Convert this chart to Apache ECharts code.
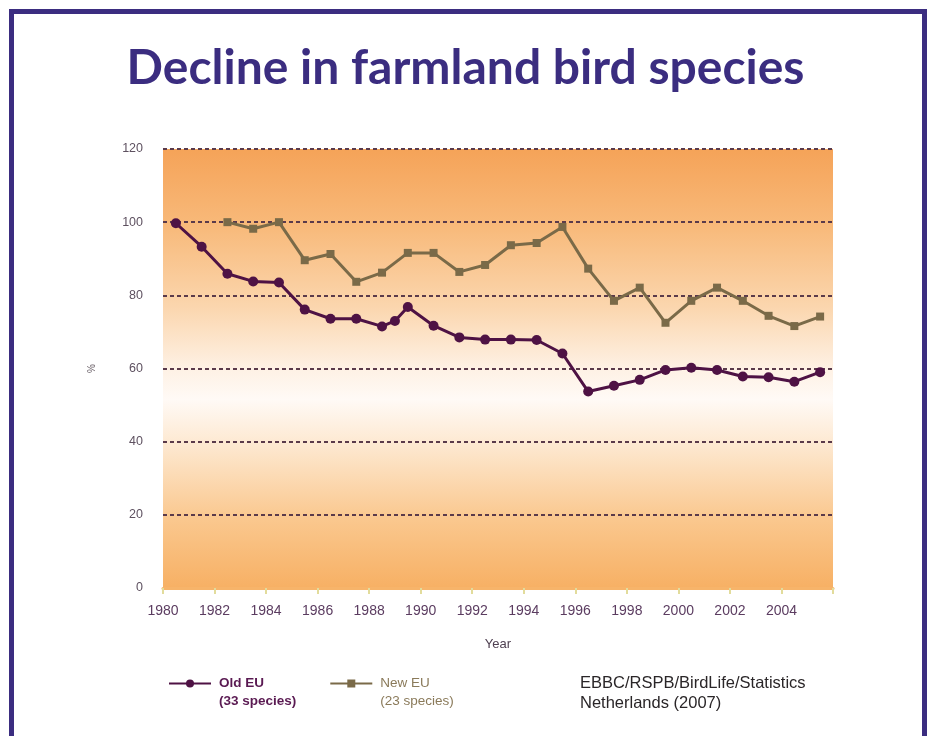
<!DOCTYPE html>
<html>
<head>
<meta charset="utf-8">
<script src="https://cdn.jsdelivr.net/npm/echarts@6/dist/echarts.min.js"></script>
<style>
  html, body { margin: 0; padding: 0; background: #ffffff; }
  #chart { width: 931px; height: 736px; }
</style>
</head>
<body>
<div id="chart"></div>
<script>
// Farmland bird index (1980 = 100), Old vs New EU member states
const yearTicks = [1980, 1982, 1984, 1986, 1988, 1990, 1992, 1994, 1996, 1998, 2000, 2002, 2004];

const oldEuYears = [1980.5, 1981.5, 1982.5, 1983.5, 1984.5, 1985.5, 1986.5, 1987.5, 1988.5, 1989.0,
  1989.5, 1990.5, 1991.5, 1992.5, 1993.5, 1994.5, 1995.5, 1996.5, 1997.5, 1998.5,
  1999.5, 2000.5, 2001.5, 2002.5, 2003.5, 2004.5, 2005.5];
const oldEuValues = [99.7, 93.3, 85.9, 83.8, 83.5, 76.1, 73.6, 73.6, 71.5, 73.0,
  76.8, 71.7, 68.5, 67.9, 67.9, 67.8, 64.1, 53.7, 55.3, 56.9,
  59.6, 60.2, 59.6, 57.8, 57.6, 56.4, 59.0];

const newEuYears = [1982.5, 1983.5, 1984.5, 1985.5, 1986.5, 1987.5, 1988.5, 1989.5, 1990.5,
  1991.5, 1992.5, 1993.5, 1994.5, 1995.5, 1996.5, 1997.5, 1998.5, 1999.5, 2000.5,
  2001.5, 2002.5, 2003.5, 2004.5, 2005.5];
const newEuValues = [100.0, 98.2, 100.0, 89.6, 91.3, 83.7, 86.2, 91.6, 91.6,
  86.4, 88.3, 93.7, 94.3, 98.7, 87.3, 78.5, 82.1, 72.5, 78.5,
  82.1, 78.5, 74.4, 71.6, 74.2];

const oldEuChange = '- 41%';
const newEuChange = '- 26%';

const pairs = (xs, ys) => xs.map((x, i) => [x, ys[i]]);

const chart = echarts.init(document.getElementById('chart'));

const legendText = (color, weight) => ({
  fontSize: 13.5, fontWeight: weight, color: color, lineHeight: 18,
  fontFamily: 'Liberation Sans', padding: [0, 0, 0, 3]
});

chart.setOption({
  backgroundColor: '#ffffff',
  animation: false,
  title: {
    text: 'Decline in farmland bird species',
    left: 'center',
    top: 40,
    textStyle: {
      fontFamily: 'Lato, sans-serif',
      fontWeight: 'bold',
      fontSize: 48,
      color: '#3b2d80'
    }
  },
  graphic: [
    {
      type: 'rect',
      shape: { x: 11.5, y: 11.5, width: 913, height: 740 },
      style: { fill: 'none', stroke: '#3b2d80', lineWidth: 5 },
      silent: true
    },
    {
      type: 'text',
      left: 580,
      top: 673,
      style: {
        text: 'EBBC/RSPB/BirdLife/Statistics\nNetherlands (2007)',
        font: '16.5px "Liberation Sans", sans-serif',
        lineHeight: 20,
        fill: '#2a2628'
      }
    }
  ],
  legend: {
    left: 163,
    top: 655,
    itemWidth: 42,
    itemHeight: 10,
    itemGap: 33,
    data: ['Old EU', 'New EU'],
    formatter: function (name) {
      const sub = name === 'Old EU' ? '(33 species)' : '(23 species)';
      const k = name === 'Old EU' ? 'o' : 'n';
      return '{e|}\n{' + k + '|' + name + '}\n{' + k + '|' + sub + '}';
    },
    textStyle: {
      rich: {
        e: { lineHeight: 18, fontSize: 11 },
        o: legendText('#5a1a52', 'bold'),
        n: legendText('#8a7a5a', 'normal')
      }
    }
  },
  grid: {
    left: 163,
    right: 98,
    top: 149,
    bottom: 148,
    show: true,
    borderWidth: 0,
    backgroundColor: {
      type: 'linear', x: 0, y: 0, x2: 0, y2: 1,
      colorStops: [
        { offset: 0.0, color: '#f5a358' },
        { offset: 0.18, color: '#f8ba7b' },
        { offset: 0.36, color: '#fbd6ae' },
        { offset: 0.5, color: '#fef1e4' },
        { offset: 0.57, color: '#fffaf6' },
        { offset: 0.68, color: '#fde7ce' },
        { offset: 0.84, color: '#fac88f' },
        { offset: 1.0, color: '#f7b064' }
      ]
    }
  },
  xAxis: {
    type: 'value',
    min: 1980,
    max: 2006,
    interval: 2,
    name: 'Year',
    nameLocation: 'middle',
    nameGap: 50,
    nameTextStyle: { color: '#4e3f50', fontSize: 13, fontFamily: 'Liberation Sans' },
    axisLine: { show: true, lineStyle: { color: '#f7b46a', width: 3 } },
    axisTick: { show: true, length: 6, lineStyle: { color: '#e2dc9c', width: 2 } },
    splitLine: { show: false },
    axisLabel: {
      margin: 16,
      color: '#5b3c60',
      fontSize: 14,
      fontFamily: 'Liberation Sans',
      formatter: function (v) { return yearTicks.indexOf(v) >= 0 ? String(v) : ''; }
    }
  },
  yAxis: {
    type: 'value',
    min: 0,
    max: 120,
    interval: 20,
    name: '%',
    nameLocation: 'middle',
    nameGap: 66,
    nameRotate: 90,
    nameTextStyle: { color: '#6a6068', fontSize: 10 },
    axisLine: { show: false },
    axisTick: { show: false },
    axisLabel: { margin: 20, color: '#5e5160', fontSize: 12.5, fontFamily: 'Liberation Sans' },
    splitLine: {
      show: true,
      lineStyle: { color: '#5a3a4a', width: 2, type: [4, 3] }
    }
  },
  series: [
    {
      name: 'Old EU',
      type: 'line',
      z: 4,
      data: pairs(oldEuYears, oldEuValues),
      symbol: 'circle',
      symbolSize: 10,
      lineStyle: { color: '#4e1244', width: 3 },
      itemStyle: { color: '#4e1244' },
      markPoint: {
        symbol: 'none',
        silent: true,
        data: [{
          coord: [2004.45, 49.4],
          label: {
            show: true, formatter: oldEuChange, position: 'inside',
            color: '#3e0e36', fontWeight: 'bold', fontSize: 12.5, fontFamily: 'Liberation Sans'
          }
        }]
      }
    },
    {
      name: 'New EU',
      type: 'line',
      z: 3,
      data: pairs(newEuYears, newEuValues),
      symbol: 'rect',
      symbolSize: 8,
      lineStyle: { color: '#7a6a48', width: 3 },
      itemStyle: { color: '#7a6a48' },
      markPoint: {
        symbol: 'none',
        silent: true,
        data: [{
          coord: [2004.45, 82.4],
          label: {
            show: true, formatter: newEuChange, position: 'inside',
            color: '#9c8562', fontSize: 12.5, fontFamily: 'Liberation Sans'
          }
        }]
      }
    }
  ]
});
</script>
</body>
</html>
